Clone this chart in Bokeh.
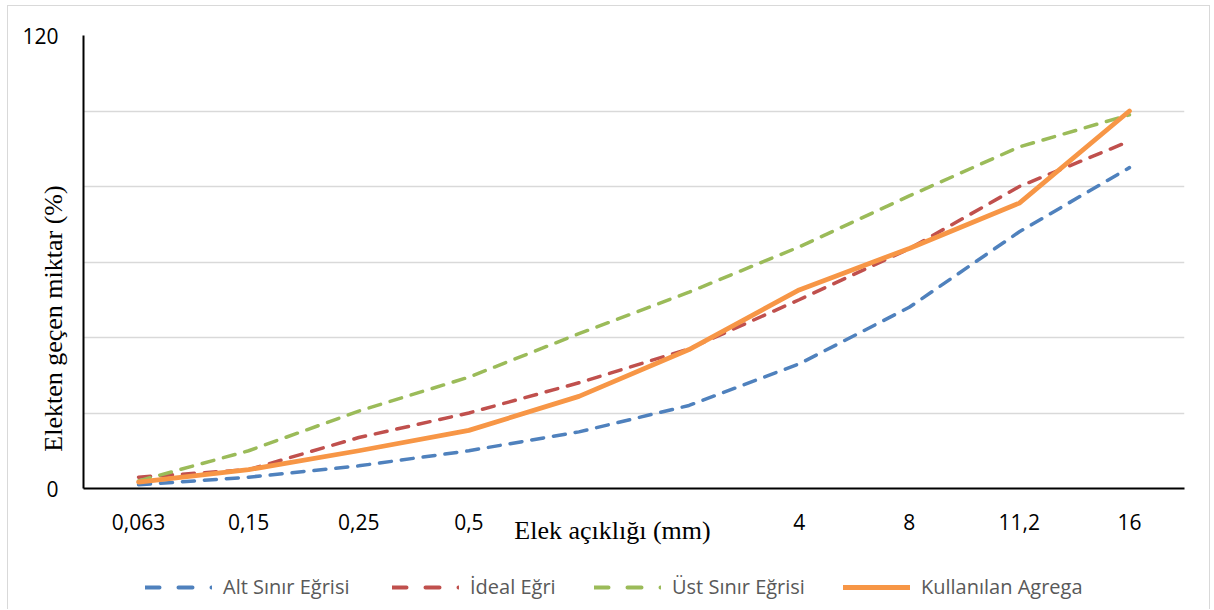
from math import pi

from bokeh.embed import file_html
from bokeh.models import ColumnDataSource, FixedTicker, Label, Legend, LegendItem, Range1d
from bokeh.plotting import figure
from bokeh.resources import INLINE

# Sieve openings (mm) and percent passing for each grading curve
sieves = ["0,063", "0,15", "0,25", "0,5", "1", "2", "4", "8", "11,2", "16"]
alt_sinir = [1, 3, 6, 10, 15, 22, 33, 48, 68, 85]
ideal = [3, 5, 13.5, 20, 28, 37, 50, 63.5, 80, 92]
ust_sinir = [2, 10, 20.5, 29.5, 41, 52, 64, 77.5, 90.5, 99]
kullanilan = [1.7, 5, 10, 15.4, 24.4, 36.8, 52.6, 63.6, 75.6, 100]

# sieve labels that sit under the x-axis title and are left blank
hidden_sieve_labels = ["1", "2"]

y_ticks = [0, 20, 40, 60, 80, 100, 120]
y_labelled = [0, 120]

series_names = ["Alt Sınır Eğrisi", "İdeal Eğri", "Üst Sınır Eğrisi", "Kullanılan Agrega"]
colors = ["#4F81BD", "#C0504D", "#9BBB59", "#F79646"]

x_title = "Elek açıklığı (mm)"
y_title = "Elekten geçen miktar (%)"

# equally spaced category slots along the x axis
slots = list(range(len(sieves)))

src = ColumnDataSource(dict(
    slot=slots, alt=alt_sinir, ideal=ideal, ust=ust_sinir, kul=kullanilan,
))

W, H = 1214, 610

# ---- chart layer -------------------------------------------------------
p = figure(
    width=1203, height=604,
    x_range=Range1d(-0.5, len(sieves) - 0.5), y_range=Range1d(0, 120),
    output_backend="svg", toolbar_location=None,
    min_border_left=75, min_border_right=27, min_border_top=29, min_border_bottom=122,
    background_fill_color="white", border_fill_color="white",
)
p.styles = {
    "margin-left": "7px", "margin-top": "5px",
    "border": "1px solid #D9D9D9", "border-bottom": "none",
}
p.outline_line_color = None

p.xaxis.ticker = FixedTicker(ticks=slots)
p.xaxis.major_label_overrides = {
    i: ("" if s in hidden_sieve_labels else s) for i, s in zip(slots, sieves)
}
p.xaxis.axis_line_color = "black"
p.xaxis.axis_line_width = 2
p.xaxis.major_tick_line_color = None
p.xaxis.minor_tick_line_color = None
p.xaxis.major_label_text_font = "Open Sans"
p.xaxis.major_label_text_font_size = "21px"
p.xaxis.major_label_text_color = "black"
p.xaxis.major_label_standoff = 19

p.yaxis.ticker = FixedTicker(ticks=y_ticks)
p.yaxis.major_label_overrides = {t: (str(t) if t in y_labelled else "") for t in y_ticks}
p.yaxis.axis_line_color = "black"
p.yaxis.axis_line_width = 2
p.yaxis.major_tick_line_color = None
p.yaxis.minor_tick_line_color = None
p.yaxis.major_label_text_font = "Open Sans"
p.yaxis.major_label_text_font_size = "21px"
p.yaxis.major_label_text_color = "black"
p.yaxis.major_label_standoff = 19

p.xgrid.grid_line_color = None
p.ygrid.grid_line_color = "#D9D9D9"
p.ygrid.grid_line_width = 1.5

dashed = dict(line_width=3.5, line_dash="12 10", line_cap="round")
p.line("slot", "alt", source=src, color=colors[0], **dashed)
p.line("slot", "ideal", source=src, color=colors[1], **dashed)
p.line("slot", "ust", source=src, color=colors[2], **dashed)
p.line("slot", "kul", source=src, color=colors[3], line_width=4.8,
       line_cap="round", line_join="round")

# ---- title and legend layer (transparent, laid over the chart) ---------
t = figure(
    width=W, height=H, x_range=Range1d(0, W), y_range=Range1d(0, H),
    x_axis_type=None, y_axis_type=None,
    output_backend="svg", toolbar_location=None, min_border=0,
    background_fill_alpha=0, border_fill_alpha=0,
)
t.outline_line_color = None
t.styles = {"margin-top": f"-{H}px"}

t.add_layout(Label(
    x=612, y=H - 531, x_units="screen", y_units="screen",
    text=x_title, text_font="Liberation Serif", text_font_size="26px",
    text_color="black", text_align="center", text_baseline="middle",
))
t.add_layout(Label(
    x=53, y=H - 319, x_units="screen", y_units="screen", angle=pi / 2,
    text=y_title, text_font="Liberation Serif", text_font_size="26px",
    text_color="black", text_align="center", text_baseline="middle",
))

# legend keys: dash-dash-dot strokes for the limit curves, solid for the aggregate;
# their own stroke lies outside the visible canvas, only the key is shown
key_styles = [
    dict(line_width=4, line_dash="14 19", line_cap="round"),
    dict(line_width=4, line_dash="14 19", line_cap="round"),
    dict(line_width=4, line_dash="14 19", line_cap="round"),
    dict(line_width=5, line_cap="round"),
]
legend_x = [145, 392, 594, 843]
for name, color, style, lx in zip(series_names, colors, key_styles, legend_x):
    key = t.line(x=[-60, -40], y=[-60, -60], color=color, **style)
    t.add_layout(Legend(
        items=[LegendItem(label=name, renderers=[key])],
        location=(lx, 9), orientation="horizontal",
        glyph_width=67, glyph_height=20, label_standoff=11,
        padding=0, margin=0, spacing=0,
        label_text_font="Open Sans", label_text_font_size="20px",
        label_text_color="#595959",
        border_line_color=None, background_fill_alpha=0,
    ))

open("out.html", "w").write(file_html([p, t], INLINE))
